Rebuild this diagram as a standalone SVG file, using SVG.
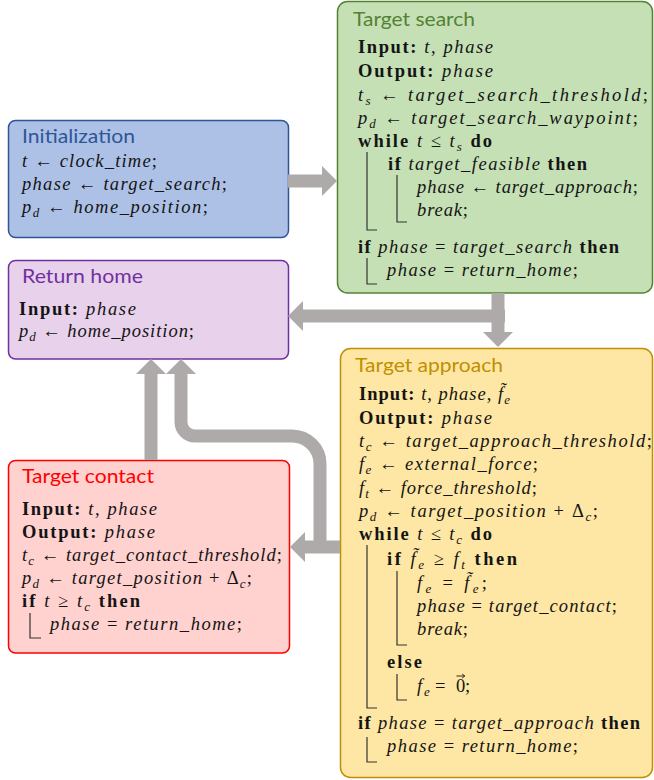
<svg xmlns="http://www.w3.org/2000/svg" width="654" height="780" viewBox="0 0 654 780">
<defs>
<marker id="ah" markerUnits="userSpaceOnUse" markerWidth="16" markerHeight="30" viewBox="0 0 16 30" refX="0" refY="15" orient="auto">
<path d="M0,0 L15,15 L0,30 Z" fill="#aeaaaa"/>
</marker>
</defs>
<style>
.box{stroke-width:1.5}
.ttl{font-family:Lato,"Open Sans","Liberation Sans",sans-serif;font-size:19px}
.m{font-family:"Liberation Serif","DejaVu Serif",serif;font-size:18.5px;fill:#141414}
.i{font-style:italic}
.b{font-weight:bold}
.s{font-size:13px}
.bar{fill:none;stroke:#333;stroke-width:1.2}
.vec{fill:none;stroke:#141414;stroke-width:0.9}
.arr{fill:none;stroke:#aeaaaa;stroke-width:13;marker-end:url(#ah)}
</style>
<rect width="654" height="780" fill="#ffffff"/>

<g id="initialization">
<rect class="box" x="8.5" y="120.5" width="280" height="117" rx="7" fill="#adc1e7" stroke="#2f5597"/>
<text class="ttl" x="22" y="143" fill="#2f5597" textLength="113" lengthAdjust="spacingAndGlyphs">Initialization</text>
<text class="m" x="22" y="167" textLength="135"><tspan class="i">t</tspan> ← <tspan class="i">clock_time</tspan>;</text>
<text class="m" x="22" y="190" textLength="205"><tspan class="i">phase</tspan> ← <tspan class="i">target_search</tspan>;</text>
<text class="m" x="22" y="213" textLength="186"><tspan class="i">p</tspan><tspan class="i s" dy="4">d</tspan><tspan dy="-4"> ← </tspan><tspan class="i">home_position</tspan>;</text>
</g>

<g id="target-search">
<rect class="box" x="337.5" y="1.5" width="315" height="291.5" rx="10" fill="#c5e0b4" stroke="#548235"/>
<text class="ttl" x="353" y="26" fill="#548235" textLength="122" lengthAdjust="spacingAndGlyphs">Target search</text>
<text class="m" x="358" y="53" textLength="135"><tspan class="b">Input:</tspan> <tspan class="i">t</tspan>, <tspan class="i">phase</tspan></text>
<text class="m" x="358" y="77" textLength="135"><tspan class="b">Output:</tspan> <tspan class="i">phase</tspan></text>
<text class="m" x="358" y="101" textLength="290"><tspan class="i">t</tspan><tspan class="i s" dy="4">s</tspan><tspan dy="-4"> ← </tspan><tspan class="i">target_search_threshold</tspan>;</text>
<text class="m" x="358" y="124" textLength="280"><tspan class="i">p</tspan><tspan class="i s" dy="4">d</tspan><tspan dy="-4"> ← </tspan><tspan class="i">target_search_waypoint</tspan>;</text>
<text class="m" x="358" y="147" textLength="134"><tspan class="b">while</tspan> <tspan class="i">t</tspan> ≤ <tspan class="i">t</tspan><tspan class="i s" dy="4">s</tspan><tspan dy="-4"> </tspan><tspan class="b">do</tspan></text>
<text class="m" x="388" y="170" textLength="199"><tspan class="b">if</tspan> <tspan class="i">target_feasible</tspan> <tspan class="b">then</tspan></text>
<text class="m" x="417" y="193" textLength="221"><tspan class="i">phase</tspan> ← <tspan class="i">target_approach</tspan>;</text>
<text class="m" x="417" y="216" textLength="51"><tspan class="i">break</tspan>;</text>
<text class="m" x="358" y="253" textLength="261"><tspan class="b">if</tspan> <tspan class="i">phase</tspan> = <tspan class="i">target_search</tspan> <tspan class="b">then</tspan></text>
<text class="m" x="387" y="276" textLength="191"><tspan class="i">phase</tspan> = <tspan class="i">return_home</tspan>;</text>
<path class="bar" d="M367 152 V230 H377 M397 175 V222 H407 M367 258 V284 H377"/>
</g>

<g id="return-home">
<rect class="box" x="8.5" y="260.5" width="280" height="98.5" rx="7" fill="#e8d1ea" stroke="#7030a0"/>
<text class="ttl" x="22" y="283" fill="#7030a0" textLength="121" lengthAdjust="spacingAndGlyphs">Return home</text>
<text class="m" x="19" y="315" textLength="117"><tspan class="b">Input:</tspan> <tspan class="i">phase</tspan></text>
<text class="m" x="19" y="337" textLength="175"><tspan class="i">p</tspan><tspan class="i s" dy="4">d</tspan><tspan dy="-4"> ← </tspan><tspan class="i">home_position</tspan>;</text>
</g>

<g id="target-approach">
<rect class="box" x="340.5" y="348.5" width="312" height="429" rx="10" fill="#fee7a4" stroke="#bf9000"/>
<text class="ttl" x="355" y="372" fill="#bf9000" textLength="148" lengthAdjust="spacingAndGlyphs">Target approach</text>
<text class="m" x="359" y="400" textLength="151"><tspan class="b">Input:</tspan> <tspan class="i">t</tspan>, <tspan class="i">phase</tspan>, <tspan class="i">f̃</tspan><tspan class="i s" dy="4">e</tspan></text>
<text class="m" x="359" y="424" textLength="133"><tspan class="b">Output:</tspan> <tspan class="i">phase</tspan></text>
<text class="m" x="359" y="447" textLength="293"><tspan class="i">t</tspan><tspan class="i s" dy="4">c</tspan><tspan dy="-4"> ← </tspan><tspan class="i">target_approach_threshold</tspan>;</text>
<text class="m" x="359" y="470" textLength="179"><tspan class="i">f</tspan><tspan class="i s" dy="4">e</tspan><tspan dy="-4"> ← </tspan><tspan class="i">external_force</tspan>;</text>
<text class="m" x="359" y="494" textLength="178"><tspan class="i">f</tspan><tspan class="i s" dy="4">t</tspan><tspan dy="-4"> ← </tspan><tspan class="i">force_threshold</tspan>;</text>
<text class="m" x="359" y="517" textLength="239"><tspan class="i">p</tspan><tspan class="i s" dy="4">d</tspan><tspan dy="-4"> ← </tspan><tspan class="i">target_position</tspan> + Δ<tspan class="i s" dy="4">c</tspan><tspan dy="-4">;</tspan></text>
<text class="m" x="359" y="540" textLength="133"><tspan class="b">while</tspan> <tspan class="i">t</tspan> ≤ <tspan class="i">t</tspan><tspan class="i s" dy="4">c</tspan><tspan dy="-4"> </tspan><tspan class="b">do</tspan></text>
<text class="m" x="387" y="565" textLength="130"><tspan class="b">if</tspan> <tspan class="i">f̃</tspan><tspan class="i s" dy="4">e</tspan><tspan dy="-4"> ≥ </tspan><tspan class="i">f</tspan><tspan class="i s" dy="4">t</tspan><tspan dy="-4"> </tspan><tspan class="b">then</tspan></text>
<text class="m" x="417" y="589" textLength="70"><tspan class="i">f</tspan><tspan class="i s" dy="4">e</tspan><tspan dy="-4"> = </tspan><tspan class="i">f̃</tspan><tspan class="i s" dy="4">e</tspan><tspan dy="-4">;</tspan></text>
<text class="m" x="417" y="612" textLength="200"><tspan class="i">phase</tspan> = <tspan class="i">target_contact</tspan>;</text>
<text class="m" x="417" y="635" textLength="51"><tspan class="i">break</tspan>;</text>
<text class="m" x="387" y="668" textLength="35"><tspan class="b">else</tspan></text>
<text class="m" x="417" y="692"><tspan class="i">f</tspan><tspan class="i s" x="424" y="696">e</tspan><tspan x="435" y="692">=</tspan><tspan x="456" y="692">0</tspan><tspan x="465" y="692">;</tspan></text>
<path class="vec" d="M456.5 676 H464.5 M462.2 674 L464.8 676 L462.2 678"/>
<text class="m" x="358" y="729" textLength="282"><tspan class="b">if</tspan> <tspan class="i">phase</tspan> = <tspan class="i">target_approach</tspan> <tspan class="b">then</tspan></text>
<text class="m" x="387" y="752" textLength="191"><tspan class="i">phase</tspan> = <tspan class="i">return_home</tspan>;</text>
<path class="bar" d="M367 545 V708 H377 M397 571 V645 H407 M397 674 V700 H407 M367 737 V762 H377"/>
</g>

<g id="target-contact">
<rect class="box" x="8.5" y="460.5" width="281" height="192.5" rx="7" fill="#ffd1cf" stroke="#ff0000"/>
<text class="ttl" x="22" y="483" fill="#ff0000" textLength="132" lengthAdjust="spacingAndGlyphs">Target contact</text>
<text class="m" x="22" y="515" textLength="135"><tspan class="b">Input:</tspan> <tspan class="i">t</tspan>, <tspan class="i">phase</tspan></text>
<text class="m" x="22" y="538" textLength="133"><tspan class="b">Output:</tspan> <tspan class="i">phase</tspan></text>
<text class="m" x="22" y="561" textLength="260"><tspan class="i">t</tspan><tspan class="i s" dy="4">c</tspan><tspan dy="-4"> ← </tspan><tspan class="i">target_contact_threshold</tspan>;</text>
<text class="m" x="22" y="584" textLength="230"><tspan class="i">p</tspan><tspan class="i s" dy="4">d</tspan><tspan dy="-4"> ← </tspan><tspan class="i">target_position</tspan> + Δ<tspan class="i s" dy="4">c</tspan><tspan dy="-4">;</tspan></text>
<text class="m" x="22" y="607" textLength="118"><tspan class="b">if</tspan> <tspan class="i">t</tspan> ≥ <tspan class="i">t</tspan><tspan class="i s" dy="4">c</tspan><tspan dy="-4"> </tspan><tspan class="b">then</tspan></text>
<text class="m" x="50" y="630" textLength="192"><tspan class="i">phase</tspan> = <tspan class="i">return_home</tspan>;</text>
<path class="bar" d="M30 613 V638 H41"/>
</g>

<g id="connectors">
<path class="arr" d="M288 181 H322"/>
<path class="arr" d="M498 293 V332"/>
<path class="arr" d="M505 316 H303"/>
<path class="arr" d="M340 547 H305"/>
<path class="arr" d="M320 547 V464 A28 28 0 0 0 292 436 H195 A14 14 0 0 1 181 422 V374"/>
<path class="arr" d="M151 460 V374"/>
</g>
</svg>
